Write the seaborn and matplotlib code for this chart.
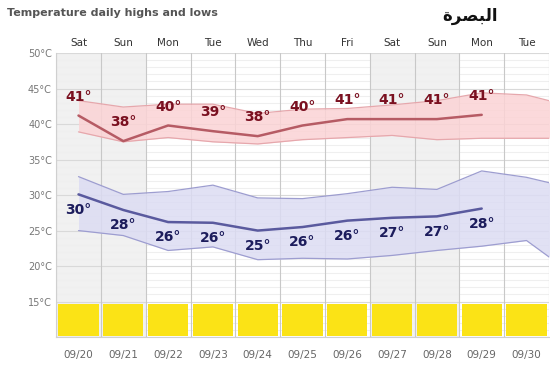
import numpy as np
import pandas as pd
import matplotlib
matplotlib.use("Agg")
import matplotlib.pyplot as plt
import seaborn as sns

# data
days = ["Sat", "Sun", "Mon", "Tue", "Wed", "Thu", "Fri", "Sat", "Sun", "Mon", "Tue"]
dates = ["09/20", "09/21", "09/22", "09/23", "09/24", "09/25", "09/26", "09/27", "09/28", "09/29", "09/30"]
weekend = [True, True, False, False, False, False, False, True, True, False, False]

high_line = [41.2, 37.6, 39.8, 39.0, 38.3, 39.8, 40.7, 40.7, 40.7, 41.3]
low_line = [30.1, 27.9, 26.2, 26.1, 25.0, 25.5, 26.4, 26.8, 27.0, 28.1]
high_labels = [41, 38, 40, 39, 38, 40, 41, 41, 41, 41]
low_labels = [30, 28, 26, 26, 25, 26, 26, 27, 27, 28]

# range bands (last value is the next day, off the right edge)
high_band_top = [43.3, 42.4, 42.8, 42.8, 41.5, 42.1, 42.2, 42.7, 43.3, 44.4, 44.1, 42.5]
high_band_bot = [38.9, 37.5, 38.1, 37.5, 37.2, 37.8, 38.1, 38.4, 37.8, 38.0, 38.0, 38.0]
low_band_top = [32.6, 30.1, 30.5, 31.4, 29.6, 29.5, 30.2, 31.1, 30.8, 33.4, 32.5, 31.0]
low_band_bot = [25.0, 24.3, 22.2, 22.7, 20.9, 21.1, 21.0, 21.5, 22.2, 22.8, 23.6, 19.0]

yticks = [15, 20, 25, 30, 35, 40, 45, 50]

sns.set_style("white")
plt.rcParams['font.family'] = ['DejaVu Sans']

fig = plt.figure(figsize=(5.5, 3.66), dpi=100)
ax = fig.add_axes([0.102, 0.079, 0.896, 0.776])

n = len(days)
xs = np.arange(n)

# weekend shading
for i, w in enumerate(weekend):
    if w:
        ax.axvspan(i - 0.5, i + 0.5, color="#f1f1f1", zorder=0, lw=0)

# grid
for t in range(10, 51):
    c = "#d9d9d9" if t % 5 == 0 else "#efefef"
    ax.axhline(t, color=c, lw=0.8, zorder=0.5)
for i in range(n + 1):
    ax.axvline(i - 0.5, color="#c8c8c8", lw=0.8, zorder=0.6)

# bands
bx = np.arange(len(high_band_top))
ax.fill_between(bx, high_band_bot, high_band_top, color="#fbd3d5", alpha=0.85, lw=0, zorder=1)
ax.plot(bx, high_band_top, color="#e6a7ac", lw=0.9, zorder=1.5)
ax.plot(bx, high_band_bot, color="#e6a7ac", lw=0.9, zorder=1.5)
ax.fill_between(bx, low_band_bot, low_band_top, color="#dcdcf3", alpha=0.85, lw=0, zorder=1)
ax.plot(bx, low_band_top, color="#9d9dd0", lw=0.9, zorder=1.5)
ax.plot(bx, low_band_bot, color="#9d9dd0", lw=0.9, zorder=1.5)

# lines
df = pd.DataFrame({"x": xs[:len(high_line)], "high": high_line, "low": low_line})
sns.lineplot(data=df, x="x", y="high", color="#b65b64", lw=1.8, ax=ax, zorder=2)
sns.lineplot(data=df, x="x", y="low", color="#5a5a9e", lw=1.8, ax=ax, zorder=2)

for i, (h, l) in enumerate(zip(high_line, low_line)):
    ax.annotate(f"{high_labels[i]}°", (i, h), xytext=(0, 13.5), textcoords="offset points",
                ha="center", va="center", fontsize=10, fontweight="bold", color="#7a1020", zorder=3)
    ax.annotate(f"{low_labels[i]}°", (i, l), xytext=(0, -11), textcoords="offset points",
                ha="center", va="center", fontsize=10, fontweight="bold", color="#1c1c5c", zorder=3)

# yellow boxes
ax.bar(xs, [4.4] * n, bottom=10.2, width=0.9, color="#fbe316", zorder=2, lw=0)

ax.set_xlim(-0.5, n - 0.5)
ax.set_ylim(10, 50)
ax.set_yticks(yticks)
ax.set_yticklabels([f"{t}°C" for t in yticks], fontsize=7, color="#777777")
ax.set_xticks(xs)
ax.set_xticklabels(dates, fontsize=7.5, color="#666666")
ax.tick_params(axis="both", length=0, pad=3)
ax.tick_params(axis="x", pad=9)
ax.set_xlabel("")
ax.set_ylabel("")
for s in ax.spines.values():
    s.set_visible(False)
ax.spines["left"].set_visible(True)
ax.spines["left"].set_color("#d0d0d0")
ax.spines["bottom"].set_visible(True)
ax.spines["bottom"].set_color("#d0d0d0")

top = ax.secondary_xaxis("top")
top.set_xticks(xs)
top.set_xticklabels(days, fontsize=7.5, color="#333333")
top.tick_params(length=0, pad=4)
top.spines["top"].set_visible(False)

fig.text(0.013, 0.965, "Temperature daily highs and lows", fontsize=8, fontweight="bold",
         color="#555555", va="center", ha="left")
fig.text(0.855, 0.955, "ﺓﺮﺼﺒﻟﺍ", fontsize=12, fontweight="bold", color="#111111",
         va="center", ha="center")

fig.savefig("out.png", dpi=100)
